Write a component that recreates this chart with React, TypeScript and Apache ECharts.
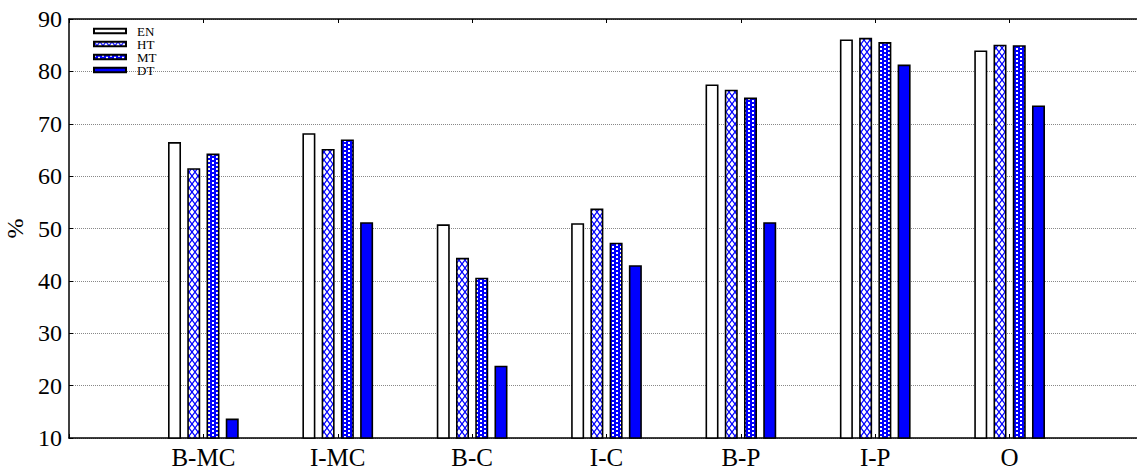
import React, { useEffect, useRef } from "react";
import * as echarts from "echarts";

const categories = ["B-MC", "I-MC", "B-C", "I-C", "B-P", "I-P", "O"];
const seriesNames = ["EN", "HT", "MT", "DT"];
const enValues = [66.5, 68.2, 50.8, 51.0, 77.5, 86.1, 84.0];
const htValues = [61.5, 65.2, 44.4, 53.8, 76.5, 86.4, 85.1];
const mtValues = [64.3, 67.0, 40.6, 47.3, 75.0, 85.6, 85.0];
const dtValues = [13.7, 51.2, 23.8, 43.0, 51.2, 81.3, 73.5];
const yMin = 10;
const yMax = 90;
const yInterval = 10;
const yName = "%";

const FONT = "Liberation Serif";
const BLUE = "#0000ff";

function makeHTPattern() {
  const c = document.createElement("canvas");
  c.width = 6;
  c.height = 8;
  const ctx = c.getContext("2d")!;
  ctx.fillStyle = "#ffffff";
  ctx.fillRect(0, 0, 6, 8);
  ctx.strokeStyle = BLUE;
  ctx.lineWidth = 1.3;
  ctx.beginPath();
  ctx.moveTo(0, 0);
  ctx.lineTo(6, 8);
  ctx.moveTo(6, 0);
  ctx.lineTo(0, 8);
  ctx.stroke();
  return { image: c, repeat: "repeat", imageWidth: 6, imageHeight: 8 };
}

function makeMTPattern() {
  const c = document.createElement("canvas");
  c.width = 8;
  c.height = 4;
  const ctx = c.getContext("2d")!;
  ctx.fillStyle = BLUE;
  ctx.fillRect(0, 0, 8, 4);
  ctx.fillStyle = "#ffffff";
  ctx.fillRect(0, 0, 2, 2);
  ctx.fillRect(4, 2, 2, 2);
  return { image: c, repeat: "repeat", imageWidth: 8, imageHeight: 4 };
}

export default function App() {
  const ref = useRef<HTMLDivElement>(null);

  useEffect(() => {
    if (!ref.current) return;
    const chart = echarts.init(ref.current, undefined, { renderer: "svg" });
    const fills: any[] = ["#ffffff", makeHTPattern(), makeMTPattern(), BLUE];
    const valueLists = [enValues, htValues, mtValues, dtValues];
    const axisData = ["", ...categories, ""];

    const series = seriesNames.map((name, i) => ({
      name,
      type: "bar",
      xAxisIndex: 0,
      yAxisIndex: 0,
      barWidth: 13,
      barGap: "48%",
      data: ["-", ...valueLists[i], "-"],
      itemStyle: { color: fills[i], borderColor: "#000", borderWidth: 1.6 },
      emphasis: { disabled: true },
      silent: true,
    }));

    chart.setOption({
      animation: false,
      grid: {
        left: 69,
        top: 19,
        bottom: 32,
        right: -7,
        outerBoundsMode: "none",
        containLabel: false,
      },
      legend: {
        data: seriesNames,
        orient: "vertical",
        left: 93,
        top: 24.5,
        padding: 0,
        itemGap: 0,
        itemWidth: 32,
        itemHeight: 4.5,
        icon: "rect",
        selectedMode: false,
        textStyle: {
          color: "#000",
          fontFamily: FONT,
          fontSize: 13,
          lineHeight: 9.6,
          padding: [0, 0, 0, 6],
        },
      },
      xAxis: [
        {
          type: "category",
          data: axisData,
          boundaryGap: false,
          position: "bottom",
          axisLine: { lineStyle: { color: "#000", width: 1.5 } },
          axisTick: { inside: true, length: 4, lineStyle: { color: "#000" } },
          axisLabel: {
            color: "#000",
            fontFamily: FONT,
            fontSize: 25,
            margin: 7,
            interval: 0,
          },
          splitLine: { show: false },
        },
        {
          type: "category",
          data: axisData,
          boundaryGap: false,
          position: "top",
          axisLine: { lineStyle: { color: "#000", width: 1.5 } },
          axisTick: { inside: true, length: 4, lineStyle: { color: "#000" } },
          axisLabel: { show: false },
          splitLine: { show: false },
        },
      ],
      yAxis: {
        type: "value",
        min: yMin,
        max: yMax,
        interval: yInterval,
        name: yName,
        nameLocation: "middle",
        nameGap: 35,
        nameTextStyle: { color: "#000", fontFamily: FONT, fontSize: 24 },
        axisLine: { show: true, lineStyle: { color: "#000", width: 1.5 } },
        axisTick: { show: true, inside: true, length: 4, lineStyle: { color: "#000" } },
        axisLabel: { color: "#000", fontFamily: FONT, fontSize: 24, margin: 7 },
        splitLine: {
          show: true,
          lineStyle: { color: "#888", type: "dotted", width: 1 },
        },
      },
      series,
    });

    return () => chart.dispose();
  }, []);

  return (
    <div
      ref={ref}
      style={{ position: "fixed", left: 0, top: 0, width: 1137, height: 470, background: "#fff" }}
    />
  );
}
